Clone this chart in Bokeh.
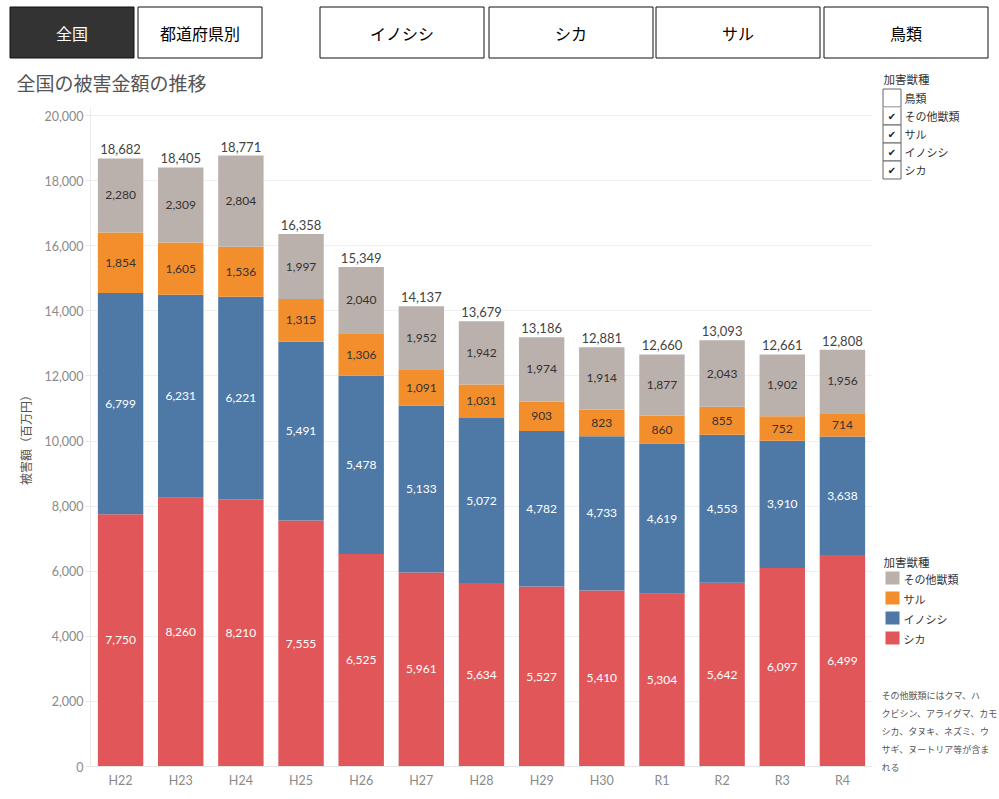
import numpy as np
from bokeh.plotting import figure
from bokeh.layouts import column, row
from bokeh.models import (ColumnDataSource, FactorRange, Range1d, LabelSet,
                          NumeralTickFormatter, SingleIntervalTicker)
from bokeh.core.properties import value
from bokeh.embed import file_html
from bokeh.resources import INLINE

# ---------------- data ----------------
years = ["H22", "H23", "H24", "H25", "H26", "H27", "H28", "H29", "H30", "R1", "R2", "R3", "R4"]
shika = [7750, 8260, 8210, 7555, 6525, 5961, 5634, 5527, 5410, 5304, 5642, 6097, 6499]
inoshishi = [6799, 6231, 6221, 5491, 5478, 5133, 5072, 4782, 4733, 4619, 4553, 3910, 3638]
saru = [1854, 1605, 1536, 1315, 1306, 1091, 1031, 903, 823, 860, 855, 752, 714]
sonota = [2280, 2309, 2804, 1997, 2040, 1952, 1942, 1974, 1914, 1877, 2043, 1902, 1956]
totals = [18682, 18405, 18771, 16358, 15349, 14137, 13679, 13186, 12881, 12660, 13093, 12661, 12808]

series_names = ["シカ", "イノシシ", "サル", "その他獣類"]
series_colors = ["#e15759", "#4e79a7", "#f28e2b", "#bab0ac"]
label_colors = ["#ffffff", "#ffffff", "#333333", "#333333"]

buttons = ["全国", "都道府県別", "イノシシ", "シカ", "サル", "鳥類"]
title_text = "全国の被害金額の推移"
y_axis_title = "被害額（百万円）"
legend_title = "加害獣種"
filter_items = ["鳥類", "その他獣類", "サル", "イノシシ", "シカ"]
filter_checked = [False, True, True, True, True]
note_lines = ["その他獣類にはクマ、ハ", "クビシン、アライグマ、カモ",
              "シカ、タヌキ、ネズミ、ウ", "サギ、ヌートリア等が含ま", "れる"]

JP = "Noto Sans CJK JP"
NUM = "Lato"
SPLIT = 107  # page row where the header panel ends and the chart row begins


def blank(fw, fh, x0, x1, y0, y1):
    f = figure(frame_width=fw, frame_height=fh, x_range=Range1d(x0, x1),
               y_range=Range1d(y1, y0), output_backend="svg", toolbar_location=None,
               x_axis_location=None, y_axis_location=None, title=None,
               min_border=0, min_border_left=0, min_border_right=0,
               min_border_top=0, min_border_bottom=0)
    f.outline_line_color = None
    f.grid.visible = False
    return f


# ---------------- header (buttons, title, top of filter legend) ----------------
hdr = blank(999, SPLIT, 0, 999, 0, SPLIT)
side = blank(125, 797 - SPLIT, 874, 999, SPLIT, 797)

btn_l = [9.5, 137.5, 319.5, 488.5, 655.5, 823.5]
btn_r = [133.5, 261.5, 483.5, 652.5, 819.5, 987.5]
btn_fill = ["#333333"] + ["white"] * 5
btn_txt = ["white"] + ["#000000"] * 5
hdr.quad(left=btn_l, right=btn_r, top=[6.5] * 6, bottom=[57.5] * 6,
         fill_color=btn_fill, line_color="#111111", line_width=1)
hdr.text(x=[(l + r) / 2 for l, r in zip(btn_l, btn_r)], y=[32] * 6, text=buttons,
         text_align="center", text_baseline="middle", text_font=value(JP),
         text_font_size=value("16px"), text_color=btn_txt)
hdr.text(x=[16], y=[82], text=[title_text], text_align="left", text_baseline="middle",
         text_font=value(JP), text_font_size=value("19px"), text_color="#555555")
hdr.text(x=[883], y=[78], text=[legend_title], text_align="left",
         text_baseline="middle", text_font=value(JP), text_font_size=value("11.5px"),
         text_color="#333333")

# filter (checkbox) legend: each item goes to the panel that contains it
BOX = 18
box_top = [88.5 + BOX * i for i in range(len(filter_items))]
in_hdr = [t + BOX <= SPLIT for t in box_top]
for fig, flag in ((hdr, True), (side, False)):
    idx = [i for i in range(len(filter_items)) if in_hdr[i] == flag]
    if not idx:
        continue
    tops = [box_top[i] for i in idx]
    fig.quad(left=[882.5] * len(idx), right=[900.5] * len(idx), top=tops,
             bottom=[t + BOX for t in tops], fill_color="white",
             line_color="#666666", line_width=1)
    cy = [box_top[i] + 9.5 for i in idx if filter_checked[i]]
    if cy:
        fig.text(x=[891.5] * len(cy), y=cy, text=["✔"] * len(cy), text_align="center",
                 text_baseline="middle", text_font=value("DejaVu Sans"),
                 text_font_size=value("10px"), text_color="#222222")
    fig.text(x=[904] * len(idx), y=[t + 9 for t in tops], text=[filter_items[i] for i in idx],
             text_align="left", text_baseline="middle", text_font=value(JP),
             text_font_size=value("11px"), text_color="#333333")

# ---------------- main chart ----------------
p = figure(width=874, height=797 - SPLIT,
           x_range=FactorRange(*years, range_padding=0),
           y_range=Range1d(0, 20246),
           output_backend="svg", toolbar_location=None, title=None,
           min_border_left=90, min_border_right=2,
           min_border_top=0, min_border_bottom=31)
p.outline_line_color = None

src = ColumnDataSource(dict(year=years, シカ=shika, イノシシ=inoshishi, サル=saru, その他獣類=sonota))
p.vbar_stack(series_names, x="year", width=0.755, color=series_colors,
             line_width=0, source=src)

vals = [shika, inoshishi, saru, sonota]
base = np.zeros(len(years))
for v, col in zip(vals, label_colors):
    arr = np.array(v, dtype=float)
    mid = base + arr / 2
    base = base + arr
    s = ColumnDataSource(dict(x=years, y=mid, t=[f"{n:,}" for n in v]))
    p.add_layout(LabelSet(x="x", y="y", text="t", source=s, text_align="center",
                          text_baseline="middle", text_color=col,
                          text_font=value(NUM), text_font_size=value("12px")))

ts = ColumnDataSource(dict(x=years, y=totals, t=[f"{n:,}" for n in totals]))
p.add_layout(LabelSet(x="x", y="y", text="t", source=ts, text_align="center",
                      text_baseline="alphabetic", y_offset=4, text_color="#444444",
                      text_font=value(NUM), text_font_size=value("13px")))

p.yaxis.ticker = SingleIntervalTicker(interval=2000, num_minor_ticks=0)
p.yaxis.formatter = NumeralTickFormatter(format="0,0")
p.yaxis.axis_label = y_axis_title
p.yaxis.axis_label_text_font = JP
p.yaxis.axis_label_text_font_size = "12px"
p.yaxis.axis_label_text_font_style = "normal"
p.yaxis.axis_label_text_color = "#555555"
p.yaxis.axis_label_standoff = 7
p.yaxis.major_label_text_font = NUM
p.yaxis.major_label_text_font_size = "12.5px"
p.yaxis.major_label_text_color = "#8a8a8a"
p.yaxis.major_label_standoff = 2
p.yaxis.major_tick_out = 5
p.yaxis.major_tick_in = 0
p.yaxis.major_tick_line_color = "#e6e6e6"
p.yaxis.minor_tick_line_color = None
p.yaxis.axis_line_color = "#ececec"

p.xaxis.major_label_text_font = NUM
p.xaxis.major_label_text_font_size = "12.5px"
p.xaxis.major_label_text_color = "#8a8a8a"
p.xaxis.major_tick_line_color = None
p.xaxis.major_tick_out = 0
p.xaxis.major_tick_in = 0
p.xaxis.major_label_standoff = 6
p.xaxis.axis_line_color = "#e6e6e6"

p.xgrid.grid_line_color = None
p.ygrid.grid_line_color = "#f0f0f0"

# ---------------- right panel (colour legend + note) ----------------
side.text(x=[883], y=[561], text=[legend_title], text_align="left",
          text_baseline="middle", text_font=value(JP), text_font_size=value("11.5px"),
          text_color="#333333")
leg_names = series_names[::-1]
leg_cols = series_colors[::-1]
leg_y = [578 + 20 * i for i in range(4)]
side.quad(left=[885] * 4, right=[899] * 4, top=[y - 7 for y in leg_y],
          bottom=[y + 6 for y in leg_y], fill_color=leg_cols, line_width=0)
side.text(x=[903] * 4, y=leg_y, text=leg_names, text_align="left", text_baseline="middle",
          text_font=value(JP), text_font_size=value("11px"), text_color="#333333")

side.text(x=[881] * len(note_lines), y=[695 + 18 * i for i in range(len(note_lines))],
          text=note_lines, text_align="left", text_baseline="middle",
          text_font=value(JP), text_font_size=value("9px"), text_color="#555555")

layout = column(hdr, row(p, side, spacing=0), spacing=0)
open("out.html", "w").write(file_html(layout, INLINE))
